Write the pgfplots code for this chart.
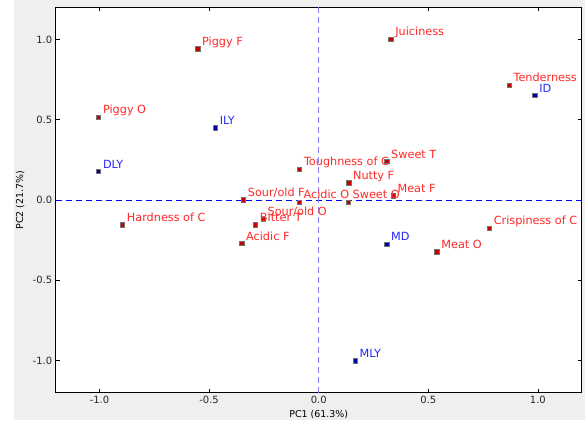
\documentclass[border=0pt]{standalone}
\usepackage{fontspec}
\setmainfont{DejaVu Sans}
\usepackage{pgfplots}
\pgfplotsset{compat=1.18}
\definecolor{figbg}{RGB}{239,239,239}
\definecolor{ptred}{RGB}{200,0,0}
\definecolor{txtred}{RGB}{255,40,40}
\definecolor{ptblue}{RGB}{0,0,170}
\definecolor{txtblue}{RGB}{40,40,255}
\definecolor{vline}{RGB}{130,130,255}

\begin{document}
\begin{tikzpicture}
\fill[white] (0,0) rectangle (585bp,420bp);
\fill[figbg] (14bp,0) rectangle (585bp,420bp);
\begin{axis}[
  at={(55.7bp,27.3bp)}, anchor=south west,
  scale only axis, width=526bp, height=385.4bp,
  xmin=-1.2, xmax=1.2, ymin=-1.2, ymax=1.2,
  axis background/.style={fill=white},
  axis line style={black, line width=0.8bp},
  xtick={-1,-0.5,0,0.5,1}, ytick={-1,-0.5,0,0.5,1},
  tick align=inside, tick pos=both,
  major tick length=4bp,
  tick style={black, line width=0.6bp},
  /pgf/number format/assume math mode=true,
  /pgf/number format/.cd, fixed, fixed zerofill, precision=1, /pgfplots/.cd,
  tick label style={font=\fontsize{10}{12}\selectfont, text=black!85},
  xlabel={PC1 (61.3\%)}, ylabel={PC2 (21.7\%)},
  label style={font=\fontsize{9.5}{11}\selectfont},
  xlabel style={anchor=center, at={(axis description cs:0.5,0)}, yshift=-21.5bp},
  ylabel style={anchor=center, at={(axis description cs:0,0.5)}, yshift=35.5bp},
  clip=false,
]
% reference lines
\addplot[color=blue, line width=0.9bp, dash pattern=on 6bp off 4bp] coordinates {(-1.2,0) (1.2,0)};
\addplot[color=vline, line width=1.4bp, dash pattern=on 6bp off 4bp] coordinates {(0,-1.2) (0,1.2)};

% attributes (loadings)
\addplot[only marks, mark=square*, mark size=2.2bp,
  mark options={fill=ptred, draw=black!55, line width=0.4bp},
  nodes near coords, point meta=explicit symbolic,
  nodes near coords style={anchor=base west, text=txtred, inner sep=0pt,
    font=\fontsize{11.3}{13}\selectfont, xshift=4.4bp, yshift=3.2bp}]
coordinates {
  (-0.553, 0.942) [Piggy F]
  (-1.005, 0.516) [Piggy O]
  (0.329, 1.002) [Juiciness]
  (0.868, 0.716) [Tenderness]
  (-0.088, 0.193) [Toughness of C]
  (0.310, 0.240) [Sweet T]
  (0.136, 0.108) [Nutty F]
  (0.339, 0.027) [Meat F]
  (-0.090, -0.012) [Acidic O]
  (0.134, -0.012) [Sweet O]
  (-0.344, 0.002) [Sour/old F]
  (-0.254, -0.118) [Sour/old O]
  (-0.289, -0.154) [Bitter T]
  (-0.896, -0.154) [Hardness of C]
  (-0.352, -0.270) [Acidic F]
  (0.778, -0.174) [Crispiness of C]
  (0.539, -0.322) [Meat O]
};

% samples (scores)
\addplot[only marks, mark=square*, mark size=2.2bp,
  mark options={fill=ptblue, draw=black!55, line width=0.4bp},
  nodes near coords, point meta=explicit symbolic,
  nodes near coords style={anchor=base west, text=txtblue, inner sep=0pt,
    font=\fontsize{11.3}{13}\selectfont, xshift=4.4bp, yshift=3.2bp}]
coordinates {
  (-0.472, 0.450) [ILY]
  (-1.005, 0.178) [DLY]
  (0.986, 0.651) [ID]
  (0.310, -0.274) [MD]
  (0.166, -1.000) [MLY]
};
\end{axis}
\end{tikzpicture}
\end{document}
